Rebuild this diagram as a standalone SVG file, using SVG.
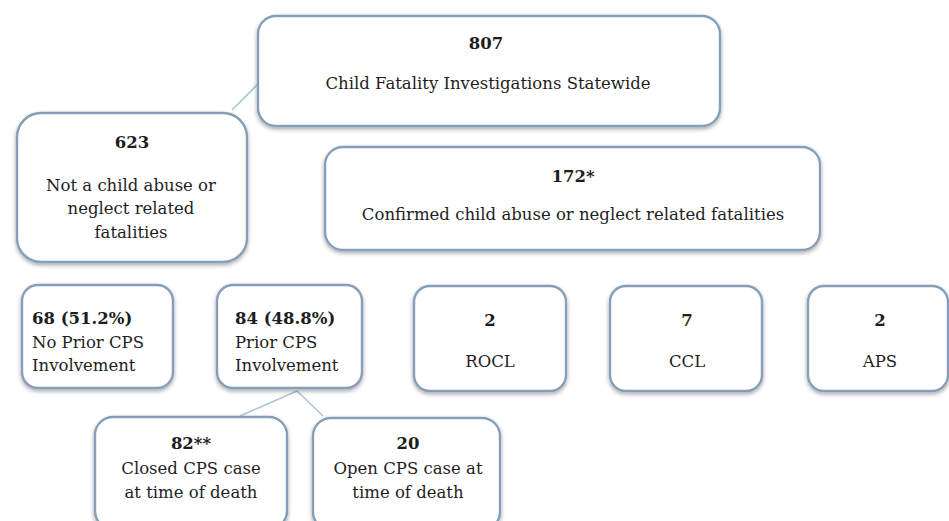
<svg xmlns="http://www.w3.org/2000/svg" width="949" height="521" viewBox="0 0 949 521">
<defs>
<filter id="sh" x="-10%" y="-10%" width="120%" height="125%">
<feGaussianBlur in="SourceAlpha" stdDeviation="2"/>
<feOffset dx="0" dy="2" result="b"/>
<feComponentTransfer><feFuncA type="linear" slope="0.35"/></feComponentTransfer>
<feMerge><feMergeNode/><feMergeNode in="SourceGraphic"/></feMerge>
</filter>
</defs>
<style>
.box{fill:#ffffff;stroke:#859fb8;stroke-width:2.4;filter:url(#sh)}
text{font-family:"DejaVu Serif","Liberation Serif",serif;font-size:16.5px;fill:#1e1e1e}
.c{text-anchor:middle}
.b{font-weight:bold}
.con{stroke:#a9c6da;stroke-width:1.6;fill:none}
</style>
<rect width="949" height="521" fill="#ffffff"/>
<g id="connectors">
<line class="con" x1="232" y1="110" x2="258" y2="84"/>
<line class="con" x1="297" y1="391" x2="240" y2="416"/>
<line class="con" x1="297" y1="391" x2="323" y2="416"/>
</g>
<g id="n807">
<rect class="box" x="258" y="16" width="462" height="110" rx="18"/>
<text class="c b" x="486" y="49" font-size="15">807</text>
<text class="c" x="488" y="89">Child Fatality Investigations Statewide</text>
</g>
<g id="n623">
<rect class="box" x="17" y="113" width="230" height="149" rx="24"/>
<text class="c b" x="132" y="148" font-size="15">623</text>
<text class="c" x="131" y="191">Not a child abuse or</text>
<text class="c" x="131" y="214">neglect related</text>
<text class="c" x="131" y="238">fatalities</text>
</g>
<g id="n172">
<rect class="box" x="325" y="147" width="495" height="103" rx="18"/>
<text class="c b" x="573" y="182" font-size="15">172*</text>
<text class="c" x="573" y="220">Confirmed child abuse or neglect related fatalities</text>
</g>
<g id="n68">
<rect class="box" x="22" y="285" width="151" height="103" rx="16"/>
<text class="b" x="32" y="324" font-size="15">68 (51.2%)</text>
<text x="32" y="348">No Prior CPS</text>
<text x="32" y="371">Involvement</text>
</g>
<g id="n84">
<rect class="box" x="217" y="285" width="145" height="103" rx="16"/>
<text class="b" x="235" y="324" font-size="15">84 (48.8%)</text>
<text x="235" y="348">Prior CPS</text>
<text x="235" y="371">Involvement</text>
</g>
<g id="nROCL">
<rect class="box" x="414" y="286" width="152" height="105" rx="16"/>
<text class="c b" x="490" y="326">2</text>
<text class="c" x="490" y="367">ROCL</text>
</g>
<g id="nCCL">
<rect class="box" x="610" y="286" width="152" height="105" rx="16"/>
<text class="c b" x="687" y="326">7</text>
<text class="c" x="687" y="367">CCL</text>
</g>
<g id="nAPS">
<rect class="box" x="808" y="286" width="140" height="105" rx="16"/>
<text class="c b" x="880" y="326">2</text>
<text class="c" x="880" y="367">APS</text>
</g>
<g id="n82">
<rect class="box" x="95" y="417" width="192" height="112" rx="18"/>
<text class="c b" x="191" y="449" font-size="15">82**</text>
<text class="c" x="191" y="474">Closed CPS case</text>
<text class="c" x="191" y="498">at time of death</text>
</g>
<g id="n20">
<rect class="box" x="313" y="418" width="187" height="112" rx="18"/>
<text class="c b" x="408" y="449" font-size="15">20</text>
<text class="c" x="408" y="474">Open CPS case at</text>
<text class="c" x="408" y="498">time of death</text>
</g>
</svg>
